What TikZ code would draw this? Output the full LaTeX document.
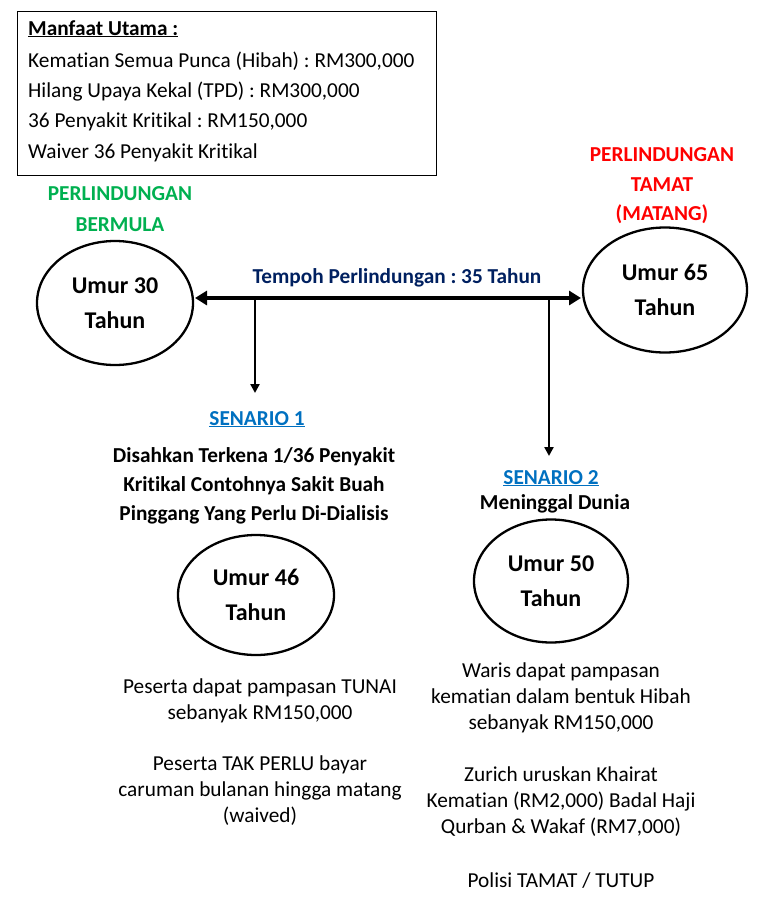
\documentclass[tikz,border=0pt]{standalone}
\usepackage{fontspec}
\setmainfont{Carlito}[Ligatures={NoCommon}]
\usetikzlibrary{arrows.meta,shapes.geometric}
\definecolor{wgreen}{RGB}{0,176,80}
\definecolor{wred}{RGB}{255,0,0}
\definecolor{wblue}{RGB}{0,112,192}
\definecolor{wnavy}{RGB}{0,32,96}
\frenchspacing
\begin{document}
\begin{tikzpicture}[x=1pt,y=-1pt,
  txt/.style={font=\fontsize{21.3}{26}\selectfont, inner sep=0pt, anchor=base},
  btxt/.style={font=\fontsize{21.3}{26}\selectfont\bfseries, inner sep=0pt, anchor=base},
  age/.style={draw, ellipse, line width=2.3pt, inner sep=0pt, align=center,
    font=\fontsize{24}{35}\selectfont\bfseries},
  bigarrow/.style={line width=4pt, {Triangle[length=12pt,width=14pt]}-{Triangle[length=12pt,width=14pt]}},
  downarrow/.style={line width=2.4pt, -{Triangle[length=9pt,width=9pt]}}]
\useasboundingbox (0,0) rectangle (767,903);
% benefits box
\node[draw, line width=1.2pt, minimum width=419pt, minimum height=164pt, anchor=north west, inner sep=0pt] (box) at (17,11) {};
\node[btxt, anchor=base west] (b0) at (28,35) {\underline{Manfaat Utama :}};
\node[txt, anchor=base west] (b1) at (28,67) {Kematian Semua Punca (Hibah) : RM300,000};
\node[txt, anchor=base west] (b2) at (28,97) {Hilang Upaya Kekal (TPD) : RM300,000};
\node[txt, anchor=base west] (b3) at (28,127) {36 Penyakit Kritikal : RM150,000};
\node[txt, anchor=base west] (b4) at (28,158) {Waiver 36 Penyakit Kritikal};
% start label
\node[btxt, text=wgreen] (s1) at (120,200) {PERLINDUNGAN};
\node[btxt, text=wgreen] (s2) at (120,231) {BERMULA};
% end label
\node[btxt, text=wred] (e1) at (662,161) {PERLINDUNGAN};
\node[btxt, text=wred] (e2) at (662,191) {TAMAT};
\node[btxt, text=wred] (e3) at (662,220) {(MATANG)};
% age circles
\node[age, minimum width=156pt, minimum height=124pt] (c30) at (115,303) {Umur 30\\Tahun};
\node[age, minimum width=164pt, minimum height=125pt] (c65) at (665,290) {Umur 65\\Tahun};
\node[age, minimum width=156pt, minimum height=120pt] (c46) at (256,595) {Umur 46\\Tahun};
\node[age, minimum width=154pt, minimum height=123pt] (c50) at (551,581) {Umur 50\\Tahun};
% timeline
\coordinate (L) at (195,298);
\coordinate (R) at (581,298);
\coordinate (d1) at (255,298);
\coordinate (d2) at (549,298);
\coordinate (d1e) at (255,393);
\coordinate (d2e) at (549,456);
\draw[bigarrow] (L) -- (R);
\node[btxt, text=wnavy] (tempoh) at (397,283) {Tempoh Perlindungan : 35 Tahun};
\draw[downarrow] (d1) -- (d1e);
\draw[downarrow] (d2) -- (d2e);
% scenario 1
\node[btxt, text=wblue] (sc1) at (257,425) {\underline{SENARIO 1}};
\node[btxt] (sc1a) at (254,462) {Disahkan Terkena 1/36 Penyakit};
\node[btxt] (sc1b) at (254,491) {Kritikal Contohnya Sakit Buah};
\node[btxt] (sc1c) at (254,520) {Pinggang Yang Perlu Di-Dialisis};
\node[txt] (l1) at (260,693) {Peserta dapat pampasan TUNAI};
\node[txt] (l2) at (260,719) {sebanyak RM150,000};
\node[txt] (l3) at (260,770) {Peserta TAK PERLU bayar};
\node[txt] (l4) at (260,796) {caruman bulanan hingga matang};
\node[txt] (l5) at (260,822) {(waived)};
% scenario 2
\node[btxt, text=wblue] (sc2) at (551,484) {\underline{SENARIO 2}};
\node[btxt] (sc2a) at (555,509) {Meninggal Dunia};
\node[txt] (r1) at (561,677) {Waris dapat pampasan};
\node[txt] (r2) at (561,703) {kematian dalam bentuk Hibah};
\node[txt] (r3) at (561,729) {sebanyak RM150,000};
\node[txt] (r4) at (561,781) {Zurich uruskan Khairat};
\node[txt] (r5) at (561,807) {Kematian (RM2,000) Badal Haji};
\node[txt] (r6) at (561,833) {Qurban \& Wakaf (RM7,000)};
\node[txt] (r7) at (561,887) {Polisi TAMAT / TUTUP};
\end{tikzpicture}
\end{document}
